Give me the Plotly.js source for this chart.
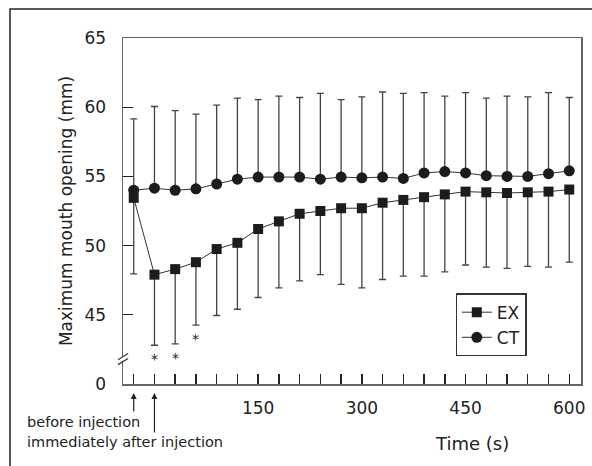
<!DOCTYPE html>
<html>
<head>
<meta charset="utf-8">
<script src="https://cdn.plot.ly/plotly-3.0.1.min.js"></script>
<style>html,body{margin:0;padding:0;background:#fff;}#chart{width:592px;height:466px;}</style>
</head>
<body>
<div id="chart"></div>
<script>
// Time points (s); -30 = before injection, 0 = immediately after injection
var times = [-30, 0, 30, 60, 90, 120, 150, 180, 210, 240, 270, 300, 330, 360, 390, 420, 450, 480, 510, 540, 570, 600];
// EX group: mean and lower end of the SD bar (mm)
var exMean  = [53.45, 47.9, 48.3, 48.8, 49.75, 50.2, 51.2, 51.75, 52.3, 52.5, 52.7, 52.7, 53.1, 53.3, 53.5, 53.7, 53.9, 53.85, 53.8, 53.85, 53.9, 54.05];
var exLower = [47.95, 42.8, 42.9, 44.25, 44.95, 45.4, 46.25, 46.95, 47.45, 47.9, 47.2, 46.95, 47.55, 47.8, 47.8, 48.1, 48.6, 48.45, 48.35, 48.5, 48.45, 48.8];
// CT group: mean and upper end of the SD bar (mm)
var ctMean  = [54.0, 54.15, 54.0, 54.1, 54.45, 54.8, 54.95, 54.95, 54.95, 54.8, 54.95, 54.9, 54.95, 54.85, 55.25, 55.35, 55.25, 55.05, 55.0, 55.0, 55.2, 55.4];
var ctUpper = [59.15, 60.05, 59.75, 59.5, 60.15, 60.65, 60.55, 60.8, 60.7, 61.0, 60.55, 60.75, 61.1, 61.0, 61.05, 60.8, 61.05, 60.65, 60.8, 60.75, 61.05, 60.7];
// significant time points
var starTimes = [0, 30, 60];
// tick labels
var xLabelVals = [150, 300, 450, 600];
var yTickVals = [40, 45, 50, 55, 60, 65];
var yTickText = ['0', '45', '50', '55', '60', '65'];

var exMinus = exMean.map(function (m, i) { return m - exLower[i]; });
var exPlus = exMean.map(function () { return 0; });
var ctPlus = ctMean.map(function (m, i) { return ctUpper[i] - m; });
var ctMinus = ctMean.map(function () { return 0; });

var FONT = 'DejaVu Sans, Arial, sans-serif';
var ink = '#1c1c1c';

var traces = [
  {
    x: times, y: exMean, name: 'EX', type: 'scatter', mode: 'lines+markers',
    line: {color: '#333', width: 1},
    marker: {symbol: 'square', size: 10, color: ink},
    error_y: {type: 'data', symmetric: false, array: exPlus, arrayminus: exMinus,
              color: '#444', thickness: 1.3, width: 3.5}
  },
  {
    x: times, y: ctMean, name: 'CT', type: 'scatter', mode: 'lines+markers',
    line: {color: '#333', width: 1},
    marker: {symbol: 'circle', size: 11, color: ink},
    error_y: {type: 'data', symmetric: false, array: ctPlus, arrayminus: ctMinus,
              color: '#444', thickness: 1.3, width: 3.5}
  }
];

var xTickText = times.map(function (t) { return xLabelVals.indexOf(t) >= 0 ? String(t) : ''; });

var annotations = [];
starTimes.forEach(function (t) {
  var i = times.indexOf(t);
  annotations.push({x: t, y: exLower[i] - 0.3, xref: 'x', yref: 'y', text: '*',
    showarrow: false, yanchor: 'top', font: {family: FONT, size: 14, color: '#222'}});
});
annotations.push({x: -30, y: -0.026, xref: 'x', yref: 'paper', text: '', showarrow: true,
  ax: 0, ay: 20, arrowhead: 2, arrowsize: 1, arrowwidth: 1.2, arrowcolor: '#222'});
annotations.push({x: 0, y: -0.026, xref: 'x', yref: 'paper', text: '', showarrow: true,
  ax: 0, ay: 41, arrowhead: 2, arrowsize: 1, arrowwidth: 1.2, arrowcolor: '#222'});
annotations.push({x: -0.214, y: -0.111, xref: 'paper', yref: 'paper', xanchor: 'left', yanchor: 'middle',
  text: 'before injection', showarrow: false, font: {family: FONT, size: 14.5, color: '#222'}});
annotations.push({x: -0.214, y: -0.169, xref: 'paper', yref: 'paper', xanchor: 'left', yanchor: 'middle',
  text: 'immediately after injection', showarrow: false, font: {family: FONT, size: 14.5, color: '#222'}});
annotations.push({x: 0.762, y: -0.171, xref: 'paper', yref: 'paper', xanchor: 'center', yanchor: 'middle',
  text: 'Time (s)', showarrow: false, font: {family: FONT, size: 18, color: '#222'}});

var shapes = [
  // outer frame
  {type: 'rect', xref: 'paper', yref: 'paper', x0: -0.2467, x1: 1.5, y0: -1, y1: 1.0838,
   line: {color: '#222', width: 1.5}, fillcolor: 'rgba(0,0,0,0)', layer: 'below'},
  // axis break gap
  {type: 'rect', xref: 'paper', yref: 'y', x0: -0.006, x1: 0.006, y0: 41.6, y1: 42.0,
   line: {width: 0}, fillcolor: '#fff'},
  {type: 'line', xref: 'paper', yref: 'y', x0: -0.011, x1: 0.011, y0: 41.75, y1: 42.2,
   line: {color: '#333', width: 1.2}},
  {type: 'line', xref: 'paper', yref: 'y', x0: -0.011, x1: 0.011, y0: 41.4, y1: 41.85,
   line: {color: '#333', width: 1.2}}
];

var layout = {
  width: 592, height: 466,
  margin: {l: 123, r: 11, t: 38, b: 82},
  paper_bgcolor: '#fff', plot_bgcolor: '#fff',
  font: {family: FONT, color: '#222'},
  showlegend: true,
  legend: {x: 0.726, y: 0.262, xanchor: 'left', yanchor: 'top', bgcolor: '#fff',
           bordercolor: '#333', borderwidth: 1.3, font: {family: FONT, size: 17, color: '#222'}},
  xaxis: {
    range: [-45.5, 617], tickmode: 'array', tickvals: times, ticktext: xTickText,
    ticks: 'inside', ticklen: 10, tickwidth: 1.4, tickcolor: '#222',
    showline: true, linecolor: '#666', linewidth: 1.5, mirror: true,
    showgrid: false, zeroline: false, ticklabelstandoff: 8,
    tickfont: {family: FONT, size: 17, color: '#222'}
  },
  yaxis: {
    range: [40, 65], tickmode: 'array', tickvals: yTickVals, ticktext: yTickText,
    ticks: 'inside', ticklen: 10, tickwidth: 1.4, tickcolor: '#222',
    showline: true, linecolor: '#666', linewidth: 1.5, mirror: true,
    showgrid: false, zeroline: false, ticklabelstandoff: 12,
    tickfont: {family: FONT, size: 17, color: '#222'},
    title: {text: 'Maximum mouth opening (mm)', font: {family: FONT, size: 17, color: '#222'}, standoff: 7}
  },
  shapes: shapes,
  annotations: annotations
};

Plotly.newPlot('chart', traces, layout, {displayModeBar: false, staticPlot: true});
</script>
</body>
</html>
